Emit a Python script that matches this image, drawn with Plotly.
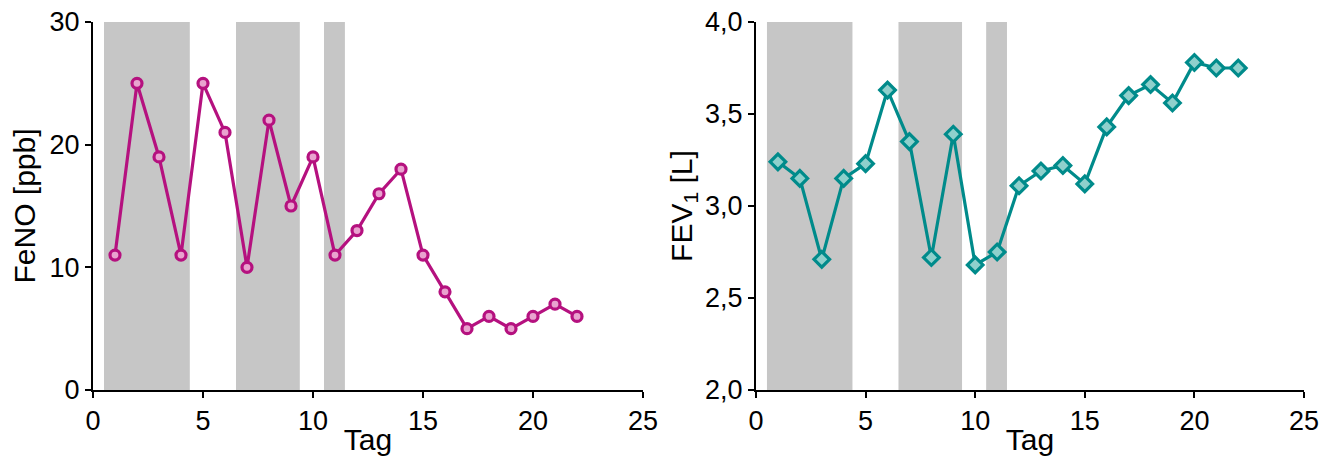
import plotly.graph_objects as go

days = list(range(1, 23))
feno = [11, 25, 19, 11, 25, 21, 10, 22, 15, 19, 11, 13, 16, 18, 11, 8, 5, 6, 5, 6, 7, 6]
fev1 = [3.24, 3.15, 2.71, 3.15, 3.23, 3.63, 3.35, 2.72, 3.39, 2.68, 2.75, 3.11, 3.19, 3.22, 3.12, 3.43, 3.60, 3.66, 3.56, 3.78, 3.75, 3.75]
shade_starts = [0.5, 6.5, 10.5]
shade_ends = [4.4, 9.4, 11.45]

MAGENTA = "#B5117F"
TEAL = "#008B8B"
GREY = "#C6C6C6"
FONT = "Liberation Sans, Arial, sans-serif"

fig = go.Figure()

fig.add_trace(go.Scatter(
    x=days, y=feno, mode="lines+markers", xaxis="x", yaxis="y",
    line=dict(color=MAGENTA, width=3.2),
    marker=dict(symbol="circle", size=10, color="#E9A3CF", line=dict(color=MAGENTA, width=3.2)),
    showlegend=False))
fig.add_trace(go.Scatter(
    x=days, y=fev1, mode="lines+markers", xaxis="x2", yaxis="y2",
    line=dict(color=TEAL, width=3.2),
    marker=dict(symbol="diamond", size=12, color="#8FD0CC", line=dict(color=TEAL, width=3.2)),
    showlegend=False))

shapes = []
for s, e in zip(shade_starts, shade_ends):
    shapes.append(dict(type="rect", xref="x", yref="y", x0=s, x1=e, y0=0, y1=30,
                       fillcolor=GREY, line=dict(width=0), layer="below"))
    shapes.append(dict(type="rect", xref="x2", yref="y2", x0=s, x1=e, y0=2.0, y1=4.0,
                       fillcolor=GREY, line=dict(width=0), layer="below"))

ax_common = dict(showgrid=False, zeroline=False, showline=True, linecolor="black", linewidth=2,
                 ticks="outside", ticklen=6, tickwidth=2, tickcolor="black", automargin=False,
                 ticklabeloverflow="allow",
                 tickfont=dict(family=FONT, size=27, color="black"))
TFONT = dict(family=FONT, size=30, color="black")

# page has an 8px body margin; figure coordinates = page coordinates - 8
OFF = 8
W, H = 1337 - 2 * OFF, 464 - 2 * OFF


def fx(px):
    return (px - OFF) / W


def fy(py):
    return 1 - (py - OFF) / H


fig.update_layout(
    width=W, height=H, autosize=False,
    margin=dict(l=0, r=0, t=0, b=0, pad=0),
    paper_bgcolor="white", plot_bgcolor="white",
    separators=",.",
    shapes=shapes,
    xaxis=dict(domain=[fx(93), fx(643)], range=[0, 25], tickvals=[0, 5, 10, 15, 20, 25],
               anchor="y", title=dict(text="Tag", font=TFONT, standoff=7),
               **ax_common),
    yaxis=dict(domain=[fy(390), fy(22)], range=[0, 30], tickvals=[0, 10, 20, 30],
               anchor="x", title=dict(text="FeNO [ppb]", font=TFONT, standoff=7),
               **ax_common),
    xaxis2=dict(domain=[fx(756), fx(1304)], range=[0, 25], tickvals=[0, 5, 10, 15, 20, 25],
                anchor="y2", title=dict(text="Tag", font=TFONT, standoff=7),
                **ax_common),
    yaxis2=dict(domain=[fy(390), fy(22)], range=[2.0, 4.0], tickvals=[2.0, 2.5, 3.0, 3.5, 4.0],
                tickformat=".1f", anchor="x2",
                title=dict(text="FEV<sub>1</sub> [L]", font=TFONT, standoff=4),
                **ax_common),
)

fig.write_html("out.html")
